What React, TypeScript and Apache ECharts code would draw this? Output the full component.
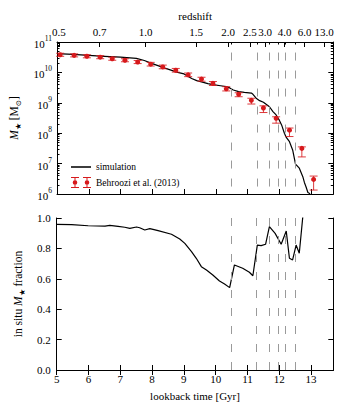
import React, { useEffect, useRef } from 'react';
import * as echarts from 'echarts';

// ---------- data ----------
const simTime = [5.0, 5.5, 6.0, 6.5, 7.0, 7.5, 7.75, 8.0, 8.4, 8.8, 9.0, 9.24, 9.4, 9.55, 9.75, 9.91, 10.15, 10.33, 10.44, 10.55, 10.72, 10.9, 11.12, 11.17, 11.27, 11.38, 11.5, 11.69, 11.8, 11.9, 12.0, 12.08, 12.16, 12.22, 12.32, 12.42, 12.51, 12.63, 12.74, 12.79, 12.84, 12.9, 12.97];
const simLogMass = [10.62, 10.59, 10.56, 10.53, 10.5, 10.46, 10.39, 10.29, 10.14, 10.0, 9.95, 9.8, 9.73, 9.69, 9.63, 9.6, 9.56, 9.53, 9.49, 9.42, 9.37, 9.34, 9.32, 9.28, 9.15, 9.07, 9.02, 8.87, 8.71, 8.6, 8.43, 8.25, 8.0, 7.86, 7.72, 7.45, 6.98, 6.85, 6.57, 6.38, 6.24, 6.05, 6.01];

const behrooziTime = [5.1, 5.54, 5.94, 6.36, 6.74, 7.14, 7.54, 7.95, 8.33, 8.74, 9.13, 9.55, 9.91, 10.33, 10.72, 11.12, 11.5, 11.9, 12.32, 12.71, 13.08];
const behrooziLogMass = [10.58, 10.56, 10.53, 10.5, 10.45, 10.4, 10.34, 10.27, 10.18, 10.07, 9.92, 9.78, 9.64, 9.46, 9.28, 9.08, 8.83, 8.49, 8.1, 7.5, 6.48];
const behrooziErrUp = [0.05, 0.05, 0.05, 0.05, 0.05, 0.05, 0.05, 0.06, 0.06, 0.06, 0.06, 0.06, 0.06, 0.07, 0.05, 0.07, 0.07, 0.05, 0.07, 0.05, 0.11];
const behrooziErrDown = [0.05, 0.05, 0.05, 0.05, 0.05, 0.05, 0.05, 0.06, 0.06, 0.06, 0.06, 0.07, 0.07, 0.07, 0.08, 0.12, 0.15, 0.16, 0.21, 0.28, 0.35];

const fracTime = [5.0, 5.47, 5.99, 6.52, 6.67, 6.93, 7.14, 7.3, 7.51, 7.61, 7.77, 7.93, 8.19, 8.61, 8.87, 9.03, 9.24, 9.39, 9.55, 9.71, 9.91, 10.12, 10.28, 10.44, 10.59, 10.85, 11.06, 11.17, 11.31, 11.43, 11.57, 11.69, 11.87, 12.06, 12.22, 12.32, 12.42, 12.53, 12.63, 12.76];
const fracValue = [0.958, 0.956, 0.949, 0.947, 0.952, 0.945, 0.939, 0.932, 0.941, 0.936, 0.921, 0.93, 0.917, 0.893, 0.862, 0.833, 0.779, 0.735, 0.68, 0.658, 0.625, 0.586, 0.566, 0.542, 0.691, 0.669, 0.643, 0.62, 0.822, 0.818, 0.827, 0.943, 0.899, 0.827, 0.914, 0.735, 0.724, 0.822, 0.768, 1.05];

const transitionTimes = [10.49, 11.29, 11.69, 11.98, 12.19, 12.5];

const redshiftLabels = ['0.5', '0.7', '1.0', '1.5', '2.0', '2.5', '3.0', '4.0', '6.0', '13.0'];
const redshiftLookback = [5.06, 6.34, 7.79, 9.38, 10.39, 11.07, 11.55, 12.17, 12.8, 13.41];

const timeTicks = [5, 6, 7, 8, 9, 10, 11, 12, 13];
const massDecades = [6, 7, 8, 9, 10, 11];
const fracTicks = [0, 0.2, 0.4, 0.6, 0.8, 1.0];

const TIME_MIN = 5;
const TIME_MAX = 13.7;

// ---------- styling ----------
const FONT = "'Liberation Serif', 'DejaVu Serif', serif";
const RED = '#d7191c';
const DASH_GREY = '#9a9a9a';

const massTicks = massDecades.map((d) => Math.pow(10, d));
const minorMassTicks: number[] = [];
massDecades.slice(0, -1).forEach((d) => {
  for (let k = 2; k <= 9; k++) minorMassTicks.push(k * Math.pow(10, d));
});

const lineIcon = 'path://M0,0 L17,0 L17,1.3 L0,1.3 Z';
const behrooziIcon =
  'path://' +
  'M0,0 L8,0 L8,1 L0,1 Z M0,10 L8,10 L8,11 L0,11 Z M3.5,1 L4.5,1 L4.5,10 L3.5,10 Z ' +
  'M1.7,5.5 A2.3,2.3 0 1,1 6.3,5.5 A2.3,2.3 0 1,1 1.7,5.5 Z ' +
  'M12,0 L20,0 L20,1 L12,1 Z M12,10 L20,10 L20,11 L12,11 Z M15.5,1 L16.5,1 L16.5,10 L15.5,10 Z ' +
  'M13.7,5.5 A2.3,2.3 0 1,1 18.3,5.5 A2.3,2.3 0 1,1 13.7,5.5 Z';

const axisLineStyle = { show: true, lineStyle: { color: '#000', width: 1 } };
const labelStyle = { color: '#000', fontFamily: FONT, fontSize: 11 };

function tickAxisBase(extra: any) {
  return {
    axisLine: axisLineStyle,
    splitLine: { show: false },
    ...extra,
  };
}

const nameRich = {
  i: { fontStyle: 'italic', fontSize: 11.5, fontFamily: FONT, color: '#000' },
  sub: { fontSize: 7.5, verticalAlign: 'bottom', fontFamily: FONT, color: '#000', lineHeight: 16 },
};

export default function App() {
  const ref = useRef<HTMLDivElement>(null);

  useEffect(() => {
    document.body.style.margin = '0';
    if (!ref.current) return;
    const chart = echarts.init(ref.current, undefined, { renderer: 'svg' });

    const simData = simTime.map((t, i) => [t, Math.pow(10, simLogMass[i])]);
    const behrooziData = behrooziTime.map((t, i) => [t, Math.pow(10, behrooziLogMass[i])]);
    const errData = behrooziTime.map((t, i) => [
      t,
      Math.pow(10, behrooziLogMass[i] - behrooziErrDown[i]),
      Math.pow(10, behrooziLogMass[i] + behrooziErrUp[i]),
    ]);
    const fracData = fracTime.map((t, i) => [t, fracValue[i]]);

    const dashStyle = { type: [8, 10] as any, color: DASH_GREY, width: 1 };

    const option: any = {
      animation: false,
      textStyle: { fontFamily: FONT },
      grid: [
        { left: 56.7, top: 42, width: 276.6, height: 152 },
        { left: 56.7, top: 218, width: 276.6, height: 152 },
      ],
      legend: {
        left: 66,
        top: 157,
        orient: 'vertical',
        itemWidth: 20,
        itemHeight: 11,
        itemGap: 5,
        textStyle: { color: '#000', fontFamily: FONT, fontSize: 9.5 },
        data: [
          { name: 'simulation', icon: lineIcon, itemStyle: { color: '#000' } },
          { name: 'Behroozi et al. (2013)', icon: behrooziIcon },
        ],
      },
      xAxis: [
        tickAxisBase({
          gridIndex: 0,
          type: 'value',
          position: 'bottom',
          min: TIME_MIN,
          max: TIME_MAX,
          interval: 1,
          axisTick: { inside: true, length: 5, customValues: timeTicks, lineStyle: { color: '#000' } },
          axisLabel: { show: false },
        }),
        tickAxisBase({
          gridIndex: 0,
          type: 'value',
          position: 'top',
          min: TIME_MIN,
          max: TIME_MAX,
          name: 'redshift',
          nameLocation: 'middle',
          nameGap: 21,
          nameTextStyle: { ...labelStyle },
          axisTick: { inside: true, length: 5, customValues: redshiftLookback, lineStyle: { color: '#000' } },
          axisLabel: {
            ...labelStyle,
            margin: 5,
            customValues: redshiftLookback,
            formatter: (v: number) => {
              const i = redshiftLookback.findIndex((x) => Math.abs(x - v) < 1e-6);
              return i >= 0 ? redshiftLabels[i] : '';
            },
          },
        }),
        tickAxisBase({
          gridIndex: 0,
          type: 'value',
          position: 'top',
          min: TIME_MIN,
          max: TIME_MAX,
          axisLine: { show: false },
          axisTick: { inside: true, length: 2.5, customValues: transitionTimes, lineStyle: { color: '#000' } },
          axisLabel: { show: false },
        }),
        tickAxisBase({
          gridIndex: 1,
          type: 'value',
          position: 'bottom',
          min: TIME_MIN,
          max: TIME_MAX,
          interval: 1,
          name: 'lookback time [Gyr]',
          nameLocation: 'middle',
          nameGap: 20,
          nameTextStyle: { ...labelStyle },
          axisTick: { inside: true, length: 5, customValues: timeTicks, lineStyle: { color: '#000' } },
          axisLabel: {
            ...labelStyle,
            margin: 3,
            customValues: timeTicks,
            formatter: (v: number) => (Number.isInteger(v) ? String(v) : ''),
          },
        }),
        tickAxisBase({
          gridIndex: 1,
          type: 'value',
          position: 'top',
          min: TIME_MIN,
          max: TIME_MAX,
          interval: 1,
          axisTick: { inside: true, length: 5, customValues: timeTicks, lineStyle: { color: '#000' } },
          axisLabel: { show: false },
        }),
      ],
      yAxis: [
        tickAxisBase({
          gridIndex: 0,
          type: 'log',
          logBase: 10,
          position: 'left',
          min: 1e6,
          max: 1e11,
          name: '{i|M}{sub|★} [M{sub|⊙}]',
          nameLocation: 'middle',
          nameRotate: 90,
          nameGap: 35,
          nameTextStyle: { color: '#000', fontFamily: FONT, fontSize: 11.5, rich: nameRich },
          axisTick: { inside: true, length: 5, customValues: massTicks, lineStyle: { color: '#000' } },
          axisLabel: {
            color: '#000',
            fontFamily: FONT,
            margin: 5,
            customValues: massTicks,
            formatter: (v: number) => `{b|10}{s|${Math.round(Math.log10(v))}}`,
            rich: {
              b: { fontSize: 11, fontFamily: FONT, color: '#000', verticalAlign: 'bottom', lineHeight: 15 },
              s: { fontSize: 7.5, fontFamily: FONT, color: '#000', verticalAlign: 'top', lineHeight: 15 },
            },
          },
        }),
        tickAxisBase({
          gridIndex: 0,
          type: 'log',
          logBase: 10,
          position: 'right',
          min: 1e6,
          max: 1e11,
          axisTick: { inside: true, length: 5, customValues: massTicks, lineStyle: { color: '#000' } },
          axisLabel: { show: false },
        }),
        tickAxisBase({
          gridIndex: 0,
          type: 'log',
          logBase: 10,
          position: 'left',
          min: 1e6,
          max: 1e11,
          axisLine: { show: false },
          axisTick: { inside: true, length: 2.5, customValues: minorMassTicks, lineStyle: { color: '#000' } },
          axisLabel: { show: false },
        }),
        tickAxisBase({
          gridIndex: 0,
          type: 'log',
          logBase: 10,
          position: 'right',
          min: 1e6,
          max: 1e11,
          axisLine: { show: false },
          axisTick: { inside: true, length: 2.5, customValues: minorMassTicks, lineStyle: { color: '#000' } },
          axisLabel: { show: false },
        }),
        tickAxisBase({
          gridIndex: 1,
          type: 'value',
          position: 'left',
          min: 0,
          max: 1,
          interval: 0.2,
          name: 'in situ {i|M}{sub|★} fraction',
          nameLocation: 'middle',
          nameRotate: 90,
          nameGap: 26,
          nameTextStyle: { color: '#000', fontFamily: FONT, fontSize: 11.5, rich: nameRich },
          axisTick: { inside: true, length: 5, customValues: fracTicks, lineStyle: { color: '#000' } },
          axisLabel: {
            ...labelStyle,
            margin: 6,
            customValues: fracTicks,
            formatter: (v: number) => v.toFixed(1),
          },
        }),
        tickAxisBase({
          gridIndex: 1,
          type: 'value',
          position: 'right',
          min: 0,
          max: 1,
          interval: 0.2,
          axisTick: { inside: true, length: 5, customValues: fracTicks, lineStyle: { color: '#000' } },
          axisLabel: { show: false },
        }),
      ],
      series: [
        {
          name: 'simulation',
          type: 'line',
          xAxisIndex: 0,
          yAxisIndex: 0,
          data: simData,
          symbol: 'none',
          showSymbol: false,
          clip: true,
          lineStyle: { color: '#000', width: 1.2 },
          itemStyle: { color: '#000' },
          z: 3,
          markLine: {
            silent: true,
            symbol: ['none', 'none'],
            label: { show: false },
            lineStyle: dashStyle,
            data: transitionTimes.map((t) => [
              { coord: [t, 4.5e10] },
              { coord: [t, 1e6] },
            ]),
          },
        },
        {
          name: 'Behroozi et al. (2013)',
          type: 'scatter',
          xAxisIndex: 0,
          yAxisIndex: 0,
          data: behrooziData,
          symbol: 'circle',
          symbolSize: 5,
          itemStyle: { color: RED, opacity: 1 },
          z: 5,
        },
        {
          name: 'Behroozi et al. (2013)',
          type: 'custom',
          xAxisIndex: 0,
          yAxisIndex: 0,
          data: errData,
          encode: { x: 0, y: [1, 2] },
          itemStyle: { color: RED },
          z: 4,
          renderItem: (params: any, api: any) => {
            const x = api.value(0);
            const lo = api.coord([x, api.value(1)]);
            const hi = api.coord([x, api.value(2)]);
            const cap = 4;
            const style = { stroke: RED, lineWidth: 1, opacity: 0.85 };
            return {
              type: 'group',
              children: [
                { type: 'line', shape: { x1: lo[0], y1: lo[1], x2: hi[0], y2: hi[1] }, style },
                { type: 'line', shape: { x1: lo[0] - cap, y1: lo[1], x2: lo[0] + cap, y2: lo[1] }, style },
                { type: 'line', shape: { x1: hi[0] - cap, y1: hi[1], x2: hi[0] + cap, y2: hi[1] }, style },
              ],
            };
          },
        },
        {
          name: 'in situ fraction',
          type: 'line',
          xAxisIndex: 3,
          yAxisIndex: 4,
          data: fracData,
          symbol: 'none',
          showSymbol: false,
          clip: true,
          lineStyle: { color: '#000', width: 1.2 },
          z: 3,
          markLine: {
            silent: true,
            symbol: ['none', 'none'],
            label: { show: false },
            lineStyle: dashStyle,
            data: transitionTimes.map((t) => [
              { coord: [t, 1] },
              { coord: [t, 0] },
            ]),
          },
        },
      ],
    };

    chart.setOption(option);
    return () => chart.dispose();
  }, []);

  return (
    <div
      ref={ref}
      style={{ position: 'fixed', left: 0, top: 0, width: 346, height: 415, background: '#fff' }}
    />
  );
}
